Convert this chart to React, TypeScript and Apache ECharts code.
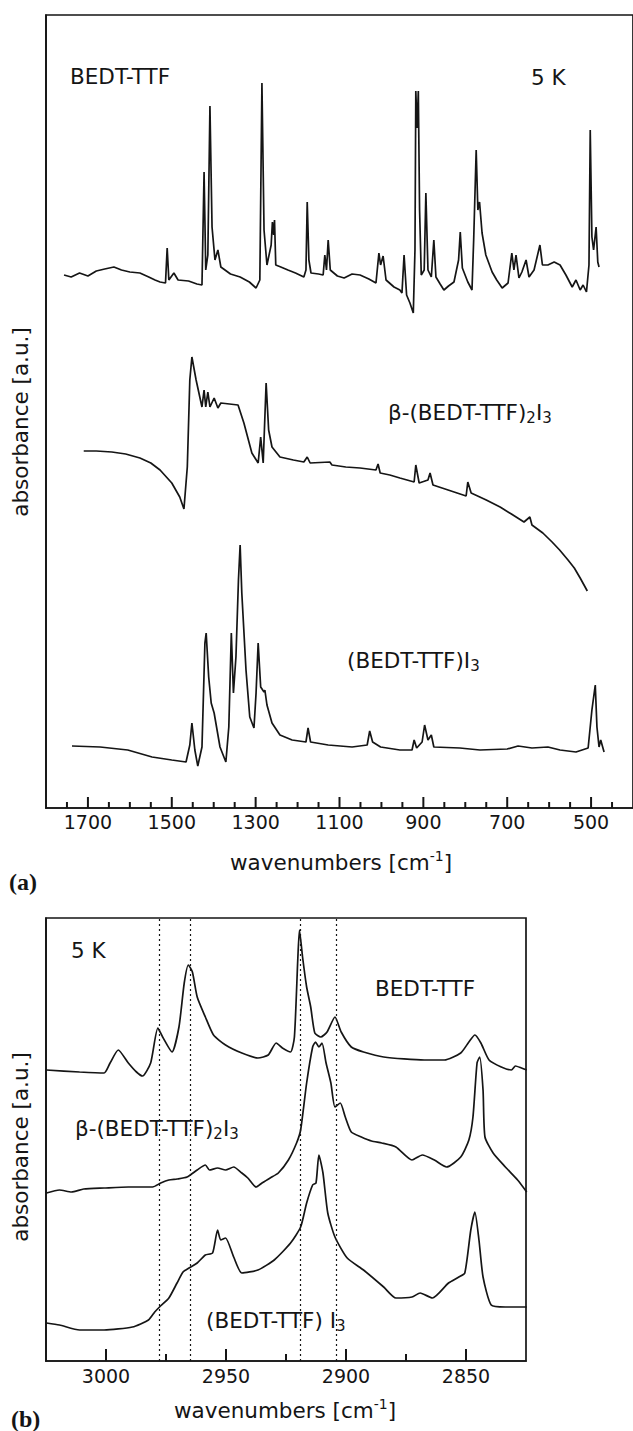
import React, { useEffect, useRef } from "react";
import * as echarts from "echarts";

// Panel (a): wavenumber [cm-1], absorbance [a.u.]
const bedtA: [number, number][] = [[1757,533],[1740,531],[1720,535],[1700,532],[1680,537],[1660,539],[1638,541],[1620,538],[1600,536],[1576,535],[1555,531],[1540,528],[1528,526],[1515,525],[1511,560],[1507,528],[1495,535],[1485,528],[1460,527],[1440,524],[1428,523],[1423,636],[1419,538],[1414,553],[1409,702],[1404,581],[1397,548],[1390,558],[1383,541],[1360,534],[1337,531],[1315,526],[1299,520],[1290,528],[1285,725],[1280,578],[1273,543],[1263,563],[1260,586],[1257,573],[1255,588],[1252,543],[1240,541],[1223,538],[1205,535],[1185,531],[1180,538],[1177,606],[1173,548],[1168,535],[1150,534],[1139,533],[1135,553],[1131,538],[1127,568],[1122,538],[1105,532],[1089,530],[1070,534],[1051,533],[1030,529],[1013,525],[1006,555],[1002,543],[996,552],[989,528],[970,521],[956,518],[951,515],[946,553],[940,513],[932,505],[924,495],[920,558],[918,717],[915,680],[912,717],[909,598],[905,533],[898,538],[894,615],[889,538],[881,531],[875,568],[870,531],[860,524],[851,518],[840,522],[827,526],[816,548],[812,576],[807,540],[794,526],[784,518],[780,568],[774,658],[770,598],[766,606],[760,575],[751,553],[736,536],[725,528],[712,520],[698,525],[689,555],[684,538],[679,553],[672,530],[665,536],[655,548],[648,531],[636,538],[622,563],[616,543],[603,543],[588,546],[574,543],[560,533],[545,521],[536,528],[526,518],[519,523],[511,516],[505,543],[502,678],[498,571],[494,558],[488,581],[484,546],[481,541]];
const betaA: [number, number][] = [[1710,357],[1680,357],[1643,356],[1610,354],[1576,350],[1550,345],[1528,338],[1500,325],[1481,311],[1471,299],[1463,341],[1457,428],[1452,451],[1442,428],[1428,401],[1423,418],[1419,401],[1414,416],[1409,401],[1399,410],[1390,400],[1383,405],[1342,403],[1328,385],[1309,355],[1294,345],[1288,371],[1282,345],[1275,425],[1269,378],[1261,361],[1242,351],[1210,348],[1185,346],[1177,351],[1170,345],[1123,346],[1118,343],[1085,341],[1051,340],[1013,338],[1008,344],[1003,335],[980,333],[956,330],[922,326],[918,343],[910,325],[889,328],[884,335],[877,323],[841,318],[798,312],[794,326],[786,315],[750,308],[717,301],[690,294],[660,286],[646,291],[641,283],[615,275],[593,266],[575,258],[555,248],[540,240],[526,230],[509,217]];
const triA: [number, number][] = [[1738,62],[1671,61],[1605,58],[1547,51],[1500,48],[1466,46],[1457,63],[1452,85],[1445,58],[1438,42],[1428,61],[1421,165],[1418,175],[1412,131],[1406,105],[1399,95],[1385,61],[1371,46],[1364,81],[1358,175],[1353,115],[1347,151],[1341,228],[1337,263],[1333,215],[1323,138],[1314,91],[1304,80],[1299,115],[1294,165],[1288,121],[1280,116],[1278,118],[1273,103],[1261,85],[1242,73],[1213,68],[1180,66],[1175,80],[1169,66],[1127,63],[1070,61],[1034,63],[1028,77],[1021,66],[1002,61],[956,58],[927,58],[922,68],[916,60],[903,66],[897,83],[889,68],[881,73],[875,61],[813,60],[765,58],[700,59],[674,62],[641,60],[603,61],[574,58],[536,56],[507,60],[498,98],[490,123],[486,81],[481,61],[477,68],[469,56]];

// Panel (b)
const bedtB: [number, number][] = [[3024.8,291],[3011,289],[3000.8,288],[2998.3,298],[2994.9,311],[2990.7,298],[2987.3,289],[2984.8,285],[2981.4,298],[2978.4,333],[2976.4,324],[2972.5,309],[2969.6,334],[2967.4,378],[2965.7,396],[2964,389],[2962,364],[2958.6,344],[2955.2,326],[2950.2,316],[2943.4,308],[2936.7,303],[2932.4,306],[2929.1,318],[2926.5,313],[2923.1,309],[2921.5,324],[2920.1,401],[2919.4,431],[2918.1,404],[2916.4,374],[2914.7,354],[2913,328],[2910.5,324],[2907.9,329],[2904.6,344],[2902,329],[2897.8,314],[2892.7,309],[2884.3,304],[2867.4,301],[2859,301],[2852.2,308],[2848.8,319],[2846.3,326],[2843.8,318],[2840.4,301],[2835.3,294],[2831.1,291],[2829.4,295],[2826.9,293],[2824.7,291]];
const betaB: [number, number][] = [[3024.8,168],[3019.4,171],[3014.4,169],[3009.3,172],[3000.8,173],[2990.7,174],[2980.6,174],[2977.2,178],[2973.8,181],[2970.4,182],[2966.2,184],[2962,191],[2958.6,196],[2956.9,191],[2953.5,193],[2950.2,191],[2946.8,194],[2943.4,188],[2940.9,183],[2937.5,174],[2935,178],[2931.6,183],[2928.2,188],[2924,201],[2920.6,218],[2918.9,231],[2916.4,278],[2913.9,314],[2912.7,319],[2911.3,314],[2910,318],[2908.3,298],[2906.3,278],[2904.6,254],[2902.4,258],[2900.3,244],[2897.8,229],[2893.6,224],[2889.4,220],[2885.1,218],[2879.2,214],[2872.5,201],[2868.2,206],[2863.2,201],[2858.1,194],[2852.2,204],[2848.8,221],[2847.1,244],[2845.4,298],[2844.3,304],[2842.9,271],[2842.1,224],[2838.7,208],[2833.6,194],[2828.5,181],[2824.7,169]];
const triB: [number, number][] = [[3024.8,38],[3019.4,36],[3011,31],[3000.8,31],[2989,34],[2982.3,41],[2979.7,49],[2977.7,54],[2973.8,63],[2970.4,78],[2967.9,89],[2965.4,93],[2962,98],[2958.6,106],[2955.6,108],[2953.5,131],[2952.2,121],[2950.2,123],[2946.8,104],[2943.4,88],[2936.7,91],[2929.9,101],[2923.1,118],[2918.9,134],[2916.4,158],[2913.9,176],[2912.5,178],[2911.3,206],[2909.6,188],[2907.6,148],[2904.6,124],[2899.5,103],[2892.7,91],[2884.3,74],[2879.2,63],[2872.5,64],[2869.1,68],[2864,63],[2857.3,78],[2853,84],[2850.5,88],[2848,131],[2846.3,149],[2844.6,121],[2842.9,84],[2839.5,56],[2833.6,54],[2824.7,54]];

const ticksAMajor = [1700, 1500, 1300, 1100, 900, 700, 500];
const ticksAMinor = [1750, 1650, 1600, 1550, 1450, 1400, 1350, 1250, 1200, 1150, 1050, 1000, 950, 850, 800, 750, 650, 600, 550, 450];
const ticksBMajor = [3000, 2950, 2900, 2850];
const ticksBMinor = [2975, 2925, 2875];
const markersB = [2978, 2965, 2919, 2904];

const FONT = "DejaVu Sans";
const INK = "#151515";

export default function App() {
  const ref = useRef<HTMLDivElement>(null);
  useEffect(() => {
    const chart = echarts.init(ref.current!, null, { renderer: "svg" });
    const lineStyle = { color: INK, width: 1.7 };
    const mkSeries = (data: any[], idx: number, extra: any = {}) => ({
      type: "line",
      xAxisIndex: idx,
      yAxisIndex: idx,
      data,
      showSymbol: false,
      symbol: "none",
      lineStyle,
      silent: true,
      ...extra,
    });
    const markBase = { silent: true, symbol: ["none", "none"], label: { show: false }, animation: false };
    const rich = {
      m: { fontSize: 21.5, lineHeight: 26, fontFamily: FONT, color: INK },
      s: { fontSize: 15, lineHeight: 15, fontFamily: FONT, verticalAlign: "bottom", color: INK },
      p: { fontSize: 14, lineHeight: 14, fontFamily: FONT, verticalAlign: "top", color: INK },
    };
    const txt = (x: number, y: number, text: string, align = "left", rotation = 0) => ({
      type: "text",
      x,
      y,
      rotation,
      silent: true,
      style: { text, rich, align, verticalAlign: "middle", fill: INK, font: `21px ${FONT}` },
    });
    const bold = (x: number, y: number, text: string) => ({
      type: "text",
      x,
      y,
      silent: true,
      style: { text, align: "left", verticalAlign: "middle", fill: INK, font: `bold 24px "Liberation Serif"` },
    });
    const axisLabelStyle = { color: INK, fontFamily: FONT, fontSize: 19, formatter: (v: number) => String(v) };
    const baseX = (grid: number, min: number, max: number, labels: number[], margin: number) => ({
      type: "value", gridIndex: grid, min, max, inverse: true, position: "bottom",
      axisLine: { show: true, lineStyle: { color: INK, width: 1.7 } },
      axisTick: { show: false },
      axisLabel: { show: true, customValues: labels, margin, ...axisLabelStyle },
      splitLine: { show: false },
    });
    const baseY = (grid: number, max: number) => ({
      type: "value", gridIndex: grid, min: 0, max,
      axisLine: { show: true, lineStyle: { color: INK, width: 1.7 } },
      axisTick: { show: false }, axisLabel: { show: false }, splitLine: { show: false },
    });
    const texts = [
      txt(70, 76, "{m|BEDT-TTF}"),
      txt(531, 77, "{m|5 K}"),
      txt(388, 412, "{m|β-(BEDT-TTF)}{s|2}{m|I}{s|3}"),
      txt(347, 660, "{m|(BEDT-TTF)I}{s|3}"),
      txt(20, 422, "{m|absorbance [a.u.]}", "center", Math.PI / 2),
      txt(341, 862, "{m|wavenumbers [cm}{p|-1}{m|]}", "center"),
      bold(9, 882, "(a)"),
      txt(71, 950, "{m|5 K}"),
      txt(375, 988, "{m|BEDT-TTF}"),
      txt(75, 1128, "{m|β-(BEDT-TTF)}{s|2}{m|I}{s|3}"),
      txt(206, 1320, "{m|(BEDT-TTF) I}{s|3}"),
      txt(20, 1147, "{m|absorbance [a.u.]}", "center", Math.PI / 2),
      txt(285, 1410, "{m|wavenumbers [cm}{p|-1}{m|]}", "center"),
      bold(11, 1419, "(b)"),
    ];
    const option: any = {
      animation: false,
      backgroundColor: "#fff",
      grid: [
        { left: 46, top: 15, width: 592.5, height: 793, show: true, borderColor: INK, borderWidth: 1.7, backgroundColor: "transparent" },
        { left: 46, top: 918, width: 480, height: 443, show: true, borderColor: INK, borderWidth: 1.7, backgroundColor: "transparent" },
      ],
      xAxis: [baseX(0, 400, 1800, ticksAMajor, 4), baseX(1, 2825, 3025, ticksBMajor, 5)],
      yAxis: [baseY(0, 793), baseY(1, 443)],
      series: [
        mkSeries(bedtA, 0),
        mkSeries(betaA, 0),
        mkSeries(triA, 0),
        mkSeries(bedtB, 1, {
          smooth: 0.2,
          markLine: {
            ...markBase,
            lineStyle: { color: INK, type: [2, 3], width: 1.2 },
            data: markersB.map((v) => ({ xAxis: v })),
          },
        }),
        mkSeries(betaB, 1, { smooth: 0.2 }),
        mkSeries(triB, 1, { smooth: 0.2 }),
      ],
      graphic: texts,
    };
    chart.setOption(option);

    // inward axis ticks, positioned through the axes' own scales (convertToPixel)
    const ticks: any[] = [];
    const addTicks = (vals: number[], grid: number, len: number) => {
      vals.forEach((v) => {
        const p = chart.convertToPixel({ xAxisIndex: grid, yAxisIndex: grid }, [v, 0]) as number[];
        if (!p || !isFinite(p[0]) || !isFinite(p[1])) return;
        ticks.push({
          type: "rect",
          silent: true,
          z: 100,
          shape: { x: p[0] - 1, y: p[1] - len, width: 2, height: len },
          style: { fill: INK },
        });
      });
    };
    addTicks(ticksAMajor, 0, 11);
    addTicks(ticksAMinor, 0, 6);
    addTicks(ticksBMajor, 1, 12);
    addTicks(ticksBMinor, 1, 7);
    chart.setOption({ graphic: [...texts, ...ticks] });

    return () => chart.dispose();
  }, []);
  return (
    <div style={{ position: "absolute", left: 0, top: 0, width: 633, height: 1431, background: "#fff", overflow: "hidden" }}>
      <div ref={ref} style={{ width: 633, height: 1431 }} />
    </div>
  );
}
